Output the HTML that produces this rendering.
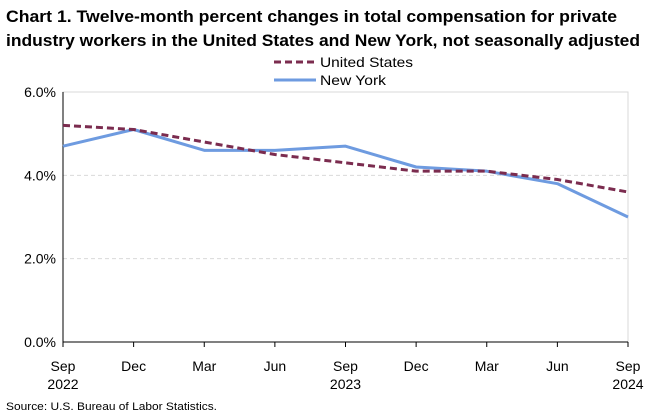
<!DOCTYPE html>
<html><head><meta charset="utf-8"><style>
body{margin:0;background:#fff;font-family:"Liberation Sans",sans-serif;}
</style></head><body>
<svg width="668" height="413" xmlns="http://www.w3.org/2000/svg" font-family="Liberation Sans, sans-serif">
<text x="6" y="22" font-size="16.5" font-weight="bold" fill="#000" textLength="611" lengthAdjust="spacingAndGlyphs">Chart 1. Twelve-month percent changes in total compensation for private</text>
<text x="6" y="46" font-size="16.5" font-weight="bold" fill="#000" textLength="634" lengthAdjust="spacingAndGlyphs">industry workers in the United States and New York, not seasonally adjusted</text>
<g>
<line x1="274" y1="62" x2="316" y2="62" stroke="#7b2c4f" stroke-width="3" stroke-dasharray="7,4"/>
<text x="320" y="67" font-size="14" fill="#000" textLength="93" lengthAdjust="spacingAndGlyphs">United States</text>
<line x1="274" y1="80" x2="316" y2="80" stroke="#6e9be0" stroke-width="3"/>
<text x="320" y="85" font-size="14" fill="#000" textLength="66" lengthAdjust="spacingAndGlyphs">New York</text>
</g>
<rect x="63" y="92" width="565" height="250" fill="none" stroke="#d9d9d9"/>
<g id="grid"></g>
<g id="axes"></g>
<g id="series"></g>
<text x="6" y="410" font-size="11" fill="#000" textLength="211" lengthAdjust="spacingAndGlyphs">Source: U.S. Bureau of Labor Statistics.</text>
</svg>
<script>
const categories=["Sep","Dec","Mar","Jun","Sep","Dec","Mar","Jun","Sep"];
const years=["2022","","","","2023","","","","2024"];
const usValues=[5.2,5.1,4.8,4.5,4.3,4.1,4.1,3.9,3.6];
const nyValues=[4.7,5.1,4.6,4.6,4.7,4.2,4.1,3.8,3.0];
const yTicks=[0,2,4,6];
const yTickLabels=["0.0%","2.0%","4.0%","6.0%"];
const NS="http://www.w3.org/2000/svg";
const x0=63,x1=628,y0=342,y1=92,yMax=6;
const xs=i=>x0+i*(x1-x0)/(categories.length-1);
const ys=v=>y0-(v/yMax)*(y0-y1);
function mk(t,a,p){const e=document.createElementNS(NS,t);for(const k in a)e.setAttribute(k,a[k]);p.appendChild(e);return e;}
const grid=document.getElementById('grid'),axes=document.getElementById('axes'),series=document.getElementById('series');
yTicks.forEach((v,i)=>{
 if(v>0&&v<yMax){const g=mk('line',{x1:x0,x2:x1,y1:ys(v),y2:ys(v),stroke:'#d9d9d9','stroke-dasharray':'4,3'},grid);
 
 }
 const t=mk('text',{x:x0-7,y:ys(v)+5,'text-anchor':'end','font-size':'14',fill:'#000'},axes);t.textContent=yTickLabels[i];
 
 
});
const ax=mk('line',{x1:x0,x2:x0,y1:y1,y2:y0,stroke:'#000'},axes);


const bx=mk('line',{x1:x0,x2:x1,y1:y0,y2:y0,stroke:'#000'},axes);


categories.forEach((c,i)=>{
 const tk=mk('line',{x1:xs(i),x2:xs(i),y1:y0,y2:y0+5,stroke:'#000'},axes);
 
 
 const t=mk('text',{x:xs(i),y:371,'text-anchor':'middle','font-size':'14',fill:'#000'},axes);t.textContent=c;
 
 
 if(years[i]){const y=mk('text',{x:xs(i),y:389,'text-anchor':'middle','font-size':'14',fill:'#000'},axes);y.textContent=years[i];
 
 }
});
function line(vals,color,dash,name){
 const p=mk('polyline',{points:vals.map((v,i)=>xs(i)+','+ys(v)).join(' '),fill:'none',stroke:color,'stroke-width':3,'stroke-linejoin':'round'},series);
 if(dash)p.setAttribute('stroke-dasharray',dash);
 
 
}
line(nyValues,'#6e9be0',null,'new-york-line');
line(usValues,'#7b2c4f','7,4','united-states-line');
</script>
</body></html>
